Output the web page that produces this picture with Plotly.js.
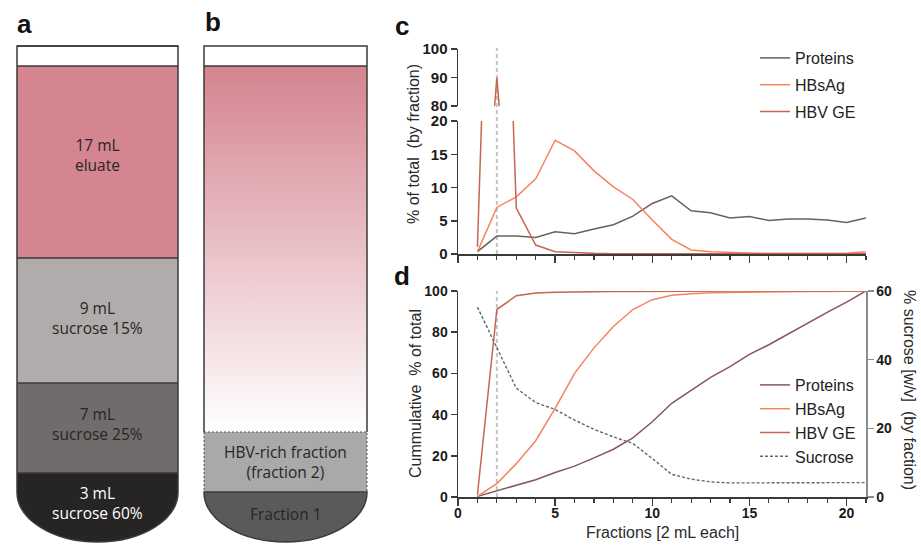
<!DOCTYPE html>
<html><head><meta charset="utf-8">
<script src="https://cdn.plot.ly/plotly-3.0.1.min.js"></script>
<style>html,body{margin:0;padding:0;background:#fff}#chart{width:921px;height:545px}</style>
</head><body><div id="chart"></div>
<script>
// ---------- DATA ----------
const fractions = [1,2,3,4,5,6,7,8,9,10,11,12,13,14,15,16,17,18,19,20,21];
const hbvRichFraction = 2;
const seriesNames = ['Proteins','HBsAg','HBV GE'];
// panel c: % of total by fraction
const cProteins = [0.35,2.7,2.7,2.5,3.35,3.05,3.75,4.4,5.7,7.6,8.75,6.5,6.2,5.4,5.65,5.05,5.25,5.25,5.1,4.75,5.4];
const cHBsAg    = [0.35,7.0,8.6,11.3,17.1,15.5,12.5,10.1,8.2,5.1,2.2,0.6,0.35,0.2,0.15,0.1,0.1,0.1,0.1,0.1,0.35];
const cHBVGE    = [1.1,90,6.9,1.35,0.35,0.2,0.1,0.05,0.03,0.03,0.02,0.02,0.02,0.02,0.02,0.02,0.02,0.02,0.02,0.02,0.02];
// panel d: cumulative % of total, and sucrose % (w/v)
const dProteins = [0.3,3.0,5.7,8.4,11.9,15.0,19.0,23.2,28.7,36.5,45.5,52.0,58.1,63.3,69.2,73.9,79.2,84.4,89.6,94.6,100];
const dHBsAg    = [0.3,6.5,16.2,27.3,43.0,60.0,72.4,82.8,91.0,95.8,97.9,98.7,99.1,99.3,99.5,99.6,99.7,99.8,99.8,99.9,100];
const dHBVGE    = [1.1,91.0,97.7,99.0,99.4,99.6,99.7,99.8,99.8,99.9,99.9,99.9,99.9,100,100,100,100,100,100,100,100];
const dSucrose  = [55.3,43.5,31.7,27.5,25.5,22.4,19.7,17.5,15.6,11.2,6.6,5.2,4.4,4.1,4.1,4.2,4.2,4.2,4.2,4.2,4.2];
// tube labels
const tubeALabels = ['17 mL<br>eluate','9 mL<br>sucrose 15%','7 mL<br>sucrose 25%','3 mL<br>sucrose 60%'];
const tubeBLabels = ['HBV-rich fraction<br>(fraction 2)','Fraction 1'];

// ---------- STYLE ----------
const W = 921, H = 545;
const X = v => v / W, Y = v => 1 - v / H;
const colC = ['#6f5d5f','#f4845f','#c8654f'];
const colD = ['#87565a','#f4845f','#c8654f'];
const axCol = '#3a3a3a';
const tickFontC = {family:'Arial', size:15, color:'#1a1a1a'};
const tickFontD = {family:'Arial', size:14, color:'#1a1a1a'};
const bold = {tickprefix:'<b>', ticksuffix:'</b>'};
const titleFont = {family:'Arial', size:16, color:'#2a2a2a'};
const tubeFont = {family:'Open Sans', size:15.5, color:'#262626'};

const traces = [];
const cSeries = [cProteins, cHBsAg, cHBVGE];
const dSeries = [dProteins, dHBsAg, dHBVGE];
cSeries.forEach((s, i) => {
  traces.push({x:fractions, y:s, xaxis:'x', yaxis:'y', mode:'lines', name:seriesNames[i],
    line:{color:colC[i], width:1.5}, legend:'legend', legendgroup:'c'+i, hoverinfo:'skip'});
  traces.push({x:fractions, y:s, xaxis:'x', yaxis:'y2', mode:'lines', name:seriesNames[i],
    line:{color:colC[i], width:1.5}, showlegend:false, hoverinfo:'skip'});
});
dSeries.forEach((s, i) => {
  traces.push({x:fractions, y:s, xaxis:'x2', yaxis:'y3', mode:'lines', name:seriesNames[i],
    line:{color:colD[i], width:1.5}, legend:'legend2', hoverinfo:'skip'});
});
traces.push({x:fractions, y:dSucrose, xaxis:'x2', yaxis:'y4', mode:'lines', name:'Sucrose',
  line:{color:'#666', width:1.4, dash:'3px,2px'}, legend:'legend2', hoverinfo:'skip'});

// tube b gradient
traces.push({x:[204,367,367,204,204], y:[66,66,432,432,66], xaxis:'x3', yaxis:'y5', mode:'lines',
  fill:'toself', line:{width:0}, showlegend:false, hoverinfo:'skip',
  fillgradient:{type:'vertical', colorscale:[[0,'#ffffff'],[1,'#d4848f']], start:432, stop:66}});

// ---------- TUBES (illustration, pixel space) ----------
const k = 0.5523;
function bottomPath(l, r, top, cy, by, close=true) {
  const cx = (l + r) / 2, rx = (r - l) / 2, ry = by - cy;
  let p = `M${l},${top} L${l},${cy} C${l},${cy + k*ry} ${cx - k*rx},${by} ${cx},${by} C${cx + k*rx},${by} ${r},${cy + k*ry} ${r},${cy} L${r},${top}`;
  return close ? p + ' Z' : p;
}
const shapes = [];
const line = {color:axCol, width:1.5};
const rect = (x0,y0,x1,y1,fill,ln) => ({type:'rect', xref:'x3', yref:'y5', x0, y0, x1, y1, fillcolor:fill, line:ln||{width:0}, layer:'below'});
const hline = (x0,x1,y,ln) => ({type:'line', xref:'x3', yref:'y5', x0, x1, y0:y, y1:y, line:ln||line, layer:'above'});
// tube a
shapes.push(rect(17,46,178,66,'#ffffff'));
shapes.push(rect(17,66,178,258,'#d4858f'));
shapes.push(rect(17,258,178,383,'#b1acab'));
shapes.push(rect(17,383,178,473,'#706c6b'));
shapes.push({type:'path', xref:'x3', yref:'y5', path:bottomPath(17,178,473,492,542), fillcolor:'#262424', line:{width:0}, layer:'below'});
[66,258,383,473].forEach(y => shapes.push(hline(17,178,y)));
shapes.push({type:'path', xref:'x3', yref:'y5', path:bottomPath(17,178,46,492,542), line:line, layer:'above'});
shapes.push(hline(17,178,46));
// tube b
shapes.push(rect(204,46,367,66,'#ffffff'));
shapes.push(rect(204,432,367,492,'#a9a9a9'));
shapes.push({type:'path', xref:'x3', yref:'y5', path:bottomPath(204,367,492,492,542), fillcolor:'#5a5a5a', line:line, layer:'below'});
shapes.push({type:'path', xref:'x3', yref:'y5', path:'M204,432 L204,46 L367,46 L367,432', line:line, layer:'above'});
shapes.push(hline(204,367,66));
shapes.push({type:'rect', xref:'x3', yref:'y5', x0:204, x1:367, y0:432, y1:492, line:{color:'#555', width:1, dash:'2px,2px'}, layer:'above'});

// reference dashed lines at HBV-rich fraction
shapes.push({type:'line', xref:'x', yref:'paper', x0:hbvRichFraction, x1:hbvRichFraction, y0:Y(254), y1:Y(48),
  line:{color:'#c4c4c4', width:2, dash:'4px,3px'}, layer:'below'});
shapes.push({type:'line', xref:'x2', yref:'paper', x0:hbvRichFraction, x1:hbvRichFraction, y0:Y(497), y1:Y(291),
  line:{color:'#c4c4c4', width:2, dash:'4px,3px'}, layer:'below'});

// ---------- ANNOTATIONS ----------
const ann = [];
const A = (text, x, y, font, extra) => Object.assign({text, xref:'paper', yref:'paper', x:X(x), y:Y(y), showarrow:false, font, xanchor:'center', yanchor:'middle'}, extra||{});
const panelFont = {family:'Arial', size:26, color:'#111', weight:'bold'};
ann.push(A('<b>a</b>', 24, 24, panelFont));
ann.push(A('<b>b</b>', 213, 22, panelFont));
ann.push(A('<b>c</b>', 402, 26, panelFont));
ann.push(A('<b>d</b>', 402, 276, panelFont));
const tubeAy = [155, 318, 424, 503];
tubeALabels.forEach((t, i) => ann.push(A(t, 97.5, tubeAy[i], Object.assign({}, tubeFont, {color: i === 3 ? '#ffffff' : '#262626'}))));
const tubeBy = [462, 514];
tubeBLabels.forEach((t, i) => ann.push(A(t, 285.5, tubeBy[i], tubeFont)));
ann.push(A('% of total\u00a0 (by fraction)', 413, 144, titleFont, {textangle:-90}));
ann.push(A('Cummulative\u00a0 % of total', 415, 394, titleFont, {textangle:-90}));
ann.push(A('% sucrose [w/v]\u00a0 (by faction)', 910, 390, titleFont, {textangle:90}));
ann.push(A('Fractions [2 mL each]', 662, 532, titleFont));

// ---------- LAYOUT ----------
const xBase = {range:[0,21], showgrid:false, zeroline:false, showline:true, linecolor:axCol, linewidth:1.5,
  ticks:'outside', tickcolor:axCol, tickwidth:1.5, ticklen:7, tick0:0, dtick:5,
  minor:{dtick:1, tick0:0, ticks:'outside', ticklen:4, tickcolor:axCol, tickwidth:1.2, showgrid:false}, fixedrange:true};
const yBase = {showgrid:false, zeroline:false, showline:true, linecolor:axCol, linewidth:1.5,
  ticks:'outside', tickcolor:axCol, tickwidth:1.5, ticklen:6, fixedrange:true};

const layout = {
  width:W, height:H, margin:{l:0,r:0,t:0,b:0}, paper_bgcolor:'#ffffff', plot_bgcolor:'rgba(0,0,0,0)',
  xaxis:Object.assign({}, xBase, {domain:[X(458),X(866)], anchor:'y', showticklabels:false}),
  yaxis:Object.assign({}, yBase, bold, {domain:[Y(254),Y(121)], range:[0,20], tick0:0, dtick:5, anchor:'x', tickfont:tickFontC}),
  yaxis2:Object.assign({}, yBase, bold, {domain:[Y(106),Y(49)], range:[80,100], tick0:80, dtick:10, anchor:'x', tickfont:tickFontC}),
  xaxis2:Object.assign({}, xBase, bold, {domain:[X(458),X(866)], anchor:'y3', tickfont:tickFontD, ticklen:7, ticklabelstandoff:-4}),
  yaxis3:Object.assign({}, yBase, bold, {domain:[Y(497),Y(291)], range:[0,100], dtick:20, anchor:'x2', tickfont:tickFontD}),
  yaxis4:Object.assign({}, yBase, bold, {range:[0,60], dtick:20, overlaying:'y3', side:'right', anchor:'x2', tickfont:tickFontD, linecolor:'#8c8c8c', tickcolor:'#8c8c8c'}),
  xaxis3:{domain:[0,1], range:[0,W], visible:false, fixedrange:true, anchor:'y5'},
  yaxis5:{domain:[0,1], range:[H,0], visible:false, fixedrange:true, anchor:'x3'},
  legend:{x:X(755), y:Y(41), xanchor:'left', yanchor:'top', bgcolor:'rgba(0,0,0,0)', font:{family:'Arial', size:16, color:'#222'}, tracegroupgap:3, itemwidth:30},
  legend2:{x:X(755), y:Y(368), xanchor:'left', yanchor:'top', bgcolor:'rgba(0,0,0,0)', font:{family:'Arial', size:16, color:'#222'}, itemwidth:30, tracegroupgap:0},
  shapes:shapes, annotations:ann, showlegend:true
};
Plotly.newPlot('chart', traces, layout, {staticPlot:true, displayModeBar:false});
</script></body></html>
